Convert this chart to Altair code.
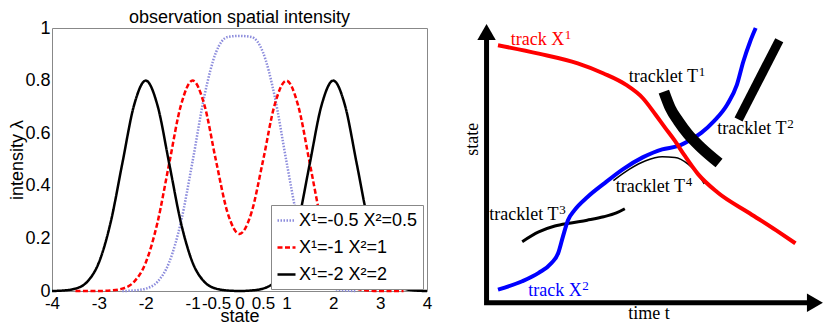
import altair as alt
import pandas as pd

# ---------------- left panel: observation spatial intensity ----------------
series_names = ["X¹=-0.5 X²=0.5", "X¹=-1 X²=1", "X¹=-2 X²=2"]
series_colors = ["#8c8cdc", "#ff0000", "#000000"]
series_dashes = [[1.5, 1.5], [5, 2.5], [1, 0]]

blue_x = [-2.5, -2.25, -2.0, -1.75, -1.5, -1.25, -1.0, -0.75, -0.5, -0.25, 0.0,
          0.25, 0.5, 0.75, 1.0, 1.25, 1.5, 1.75, 2.0, 2.25, 2.5]
blue_y = [0.000, 0.002, 0.009, 0.035, 0.109, 0.262, 0.494, 0.741, 0.908, 0.966, 0.970,
          0.966, 0.908, 0.741, 0.494, 0.262, 0.109, 0.035, 0.009, 0.002, 0.000]

red_x = [-3.5, -3.25, -3.0, -2.75, -2.5, -2.25, -2.0, -1.75, -1.5, -1.25, -1.0, -0.75, -0.5, -0.25, 0.0,
         0.25, 0.5, 0.75, 1.0, 1.25, 1.5, 1.75, 2.0, 2.25, 2.5, 2.75, 3.0, 3.25, 3.5]
red_y = [0.000, 0.000, 0.000, 0.002, 0.009, 0.035, 0.108, 0.260, 0.485, 0.706, 0.800, 0.708, 0.494, 0.295, 0.217,
         0.295, 0.494, 0.708, 0.800, 0.706, 0.485, 0.260, 0.108, 0.035, 0.009, 0.002, 0.000, 0.000, 0.000]

black_x = [-4.0, -3.75, -3.5, -3.25, -3.0, -2.75, -2.5, -2.25, -2.0, -1.75, -1.5, -1.25, -1.0, -0.75, -0.5, -0.25, 0.0,
           0.25, 0.5, 0.75, 1.0, 1.25, 1.5, 1.75, 2.0, 2.25, 2.5, 2.75, 3.0, 3.25, 3.5, 3.75, 4.0]
black_y = [0.000, 0.002, 0.009, 0.035, 0.108, 0.260, 0.485, 0.706, 0.800, 0.706, 0.485, 0.260, 0.108, 0.035, 0.009, 0.002, 0.000,
           0.002, 0.009, 0.035, 0.108, 0.260, 0.485, 0.706, 0.800, 0.706, 0.485, 0.260, 0.108, 0.035, 0.009, 0.002, 0.000]

x_ticks = [-4, -3, -2, -1, -0.5, 0, 0.5, 1, 2, 3, 4]
y_ticks = [0, 0.2, 0.4, 0.6, 0.8, 1]

rows = []
for name, xs, ys in zip(series_names, [blue_x, red_x, black_x], [blue_y, red_y, black_y]):
    for i, (xv, yv) in enumerate(zip(xs, ys)):
        rows.append({"x": xv, "y": yv, "series": name, "i": i})
df_left = pd.DataFrame(rows)

PLOT_H = 263

legend = alt.Legend(
    title=None, orient="none", legendX=219, legendY=PLOT_H - 86,
    fillColor="white", strokeColor="#888888", padding=5, rowPadding=7,
    labelFontSize=18, labelFont="Liberation Sans", labelColor="black", labelOffset=2, labelLimit=220,
    symbolType="stroke", symbolSize=324, symbolStrokeWidth=2.5, cornerRadius=0,
)

left = alt.Chart(df_left).mark_line(interpolate="monotone", strokeWidth=2.5).encode(
    x=alt.X("x:Q", scale=alt.Scale(domain=[-4, 4], nice=False, zero=False),
            axis=alt.Axis(values=x_ticks, title="state", labelExpr="'' + datum.value",
                          labelFontSize=17, labelFont="Liberation Sans", labelColor="black",
                          labelOverlap=False, labelFlush=False, labelBound=False, labelPadding=4,
                          domain=False, ticks=False, grid=False,
                          titleFontSize=18, titleFont="Liberation Sans", titleFontWeight="normal",
                          titleColor="black", titlePadding=-4)),
    y=alt.Y("y:Q", scale=alt.Scale(domain=[0, 1], nice=False),
            axis=alt.Axis(values=y_ticks, title="intensity λ", labelExpr="'' + datum.value",
                          labelFontSize=18, labelFont="Liberation Sans", labelColor="black",
                          labelOverlap=False, labelFlush=False, labelPadding=2,
                          domain=False, ticks=False, grid=False,
                          titleFontSize=18, titleFont="Liberation Sans", titleFontWeight="normal",
                          titleColor="black", titlePadding=-2)),
    color=alt.Color("series:N", scale=alt.Scale(domain=series_names, range=series_colors), legend=legend),
    strokeDash=alt.StrokeDash("series:N", scale=alt.Scale(domain=series_names, range=series_dashes), legend=legend),
    order=alt.Order("i:Q"),
).properties(
    width=375, height=PLOT_H,
    title=alt.TitleParams("observation spatial intensity", fontSize=18, fontWeight="normal",
                          font="Liberation Sans", color="black", offset=-8),
    view=alt.ViewBackground(stroke="#888888", strokeWidth=1),
)

# ---------------- right panel: tracks and tracklets diagram ----------------
red_t = [0.34, 1.55, 2.71, 3.48, 4.15, 4.64, 5.02, 5.31, 5.60, 5.89, 6.28, 6.86, 7.83, 8.60, 9.18]
red_s = [9.23, 8.93, 8.58, 8.22, 7.81, 7.34, 6.75, 6.27, 5.80, 5.27, 4.62, 3.96, 3.20, 2.60, 2.13]

blue_t = [0.34, 1.06, 1.55, 1.93, 2.13, 2.27, 2.42, 2.61, 3.00, 3.48, 4.06, 4.64, 5.22, 5.70, 6.09,
          6.38, 6.76, 7.15, 7.44, 7.63, 7.83, 8.00]
blue_s = [0.47, 0.77, 1.07, 1.42, 1.78, 2.37, 2.96, 3.31, 3.79, 4.26, 4.79, 5.21, 5.50, 5.62, 5.86,
          6.09, 6.51, 7.10, 7.81, 8.64, 9.35, 9.85]

t1_t = [5.27, 5.46, 5.70, 5.99, 6.38, 6.91]
t1_s = [7.57, 6.98, 6.51, 6.04, 5.56, 5.01]
t2_t = [7.49, 8.70]
t2_s = [6.57, 9.41]
t3_t = [1.06, 1.55, 2.03, 2.51, 2.99, 3.48, 3.86, 4.11]
t3_s = [2.19, 2.54, 2.75, 2.86, 2.96, 3.08, 3.22, 3.37]
t4_t = [3.77, 4.25, 4.73, 5.22, 5.60, 5.99, 6.28, 6.47]
t4_s = [4.38, 4.79, 5.09, 5.23, 5.21, 4.97, 4.62, 4.26]

axis_t = [0.0, 0.0, 9.6]
axis_s = [9.5, 0.0, 0.0]
arrow_up_t, arrow_up_s = [0.0], [9.71]
arrow_right_t, arrow_right_s = [9.76], [0.0]

tracklet_labels = ["tracklet T", "tracklet T", "tracklet T", "tracklet T"]
tracklet_sups = ["1", "2", "4", "3"]
tracklet_t = [4.23, 6.86, 3.84, 0.08]
tracklet_s = [7.93, 6.04, 3.96, 2.96]
red_label, red_sup, red_label_t, red_label_s = ["track X"], ["1"], [0.72], [9.25]
blue_label, blue_sup, blue_label_t, blue_label_s = ["track X"], ["2"], [1.24], [0.24]
ylab, ylab_t, ylab_s = ["state"], [-0.40], [5.86]
xlab, xlab_t, xlab_s = ["time t"], [4.83], [-0.6]

X = alt.X("t:Q", scale=alt.Scale(domain=[-0.7, 10.0], nice=False, zero=False), axis=None)
Y = alt.Y("s:Q", scale=alt.Scale(domain=[0.42, 9.85], nice=False, zero=False), axis=None)


def pts(ts, ss):
    return pd.DataFrame({"t": ts, "s": ss, "i": list(range(len(ts)))})


def curve(ts, ss, **mk):
    return alt.Chart(pts(ts, ss)).mark_line(**mk).encode(x=X, y=Y, order="i:Q")


def labels(texts, ts, ss, size=18, **mk):
    d = pd.DataFrame({"t": ts, "s": ss, "label": texts})
    return alt.Chart(d).mark_text(font="Liberation Serif", fontSize=size, **mk).encode(x=X, y=Y, text="label:N")


axes_line = curve(axis_t, axis_s, color="black", strokeWidth=5, strokeJoin="miter", strokeCap="butt")
arrow_up = alt.Chart(pts(arrow_up_t, arrow_up_s)).mark_point(
    shape="triangle-up", filled=True, size=340, color="black", opacity=1).encode(x=X, y=Y)
arrow_right = alt.Chart(pts(arrow_right_t, arrow_right_s)).mark_point(
    shape="triangle-right", filled=True, size=340, color="black", opacity=1).encode(x=X, y=Y)

base_text = dict(align="left", baseline="alphabetic")
layers = [
    axes_line, arrow_up, arrow_right,
    curve(t3_t, t3_s, color="black", strokeWidth=3, interpolate="monotone"),
    curve(t4_t, t4_s, color="black", strokeWidth=1.5, interpolate="monotone"),
    curve(blue_t, blue_s, color="#0000ff", strokeWidth=4, interpolate="monotone"),
    curve(t1_t, t1_s, color="black", strokeWidth=11, strokeCap="butt", interpolate="monotone"),
    curve(t2_t, t2_s, color="black", strokeWidth=9, strokeCap="butt"),
    curve(red_t, red_s, color="#ff0000", strokeWidth=4, interpolate="monotone"),
    labels(tracklet_labels, tracklet_t, tracklet_s, color="black", **base_text),
    labels(tracklet_sups, tracklet_t, tracklet_s, size=13, dx=70, dy=-6, color="black", **base_text),
    labels(red_label, red_label_t, red_label_s, color="#ff0000", **base_text),
    labels(red_sup, red_label_t, red_label_s, size=13, dx=54, dy=-6, color="#ff0000", **base_text),
    labels(blue_label, blue_label_t, blue_label_s, color="#0000ff", **base_text),
    labels(blue_sup, blue_label_t, blue_label_s, size=13, dx=54, dy=-6, color="#0000ff", **base_text),
    labels(ylab, ylab_t, ylab_s, align="center", baseline="middle", angle=270, color="black"),
    labels(xlab, xlab_t, xlab_s, align="center", baseline="alphabetic", color="black"),
]
right = alt.layer(*layers).properties(width=360, height=PLOT_H)

chart = alt.hconcat(left, right, spacing=30).properties(padding=0).configure_view(stroke=None)

chart.save("out.html", embed_options={"renderer": "svg", "actions": False})
